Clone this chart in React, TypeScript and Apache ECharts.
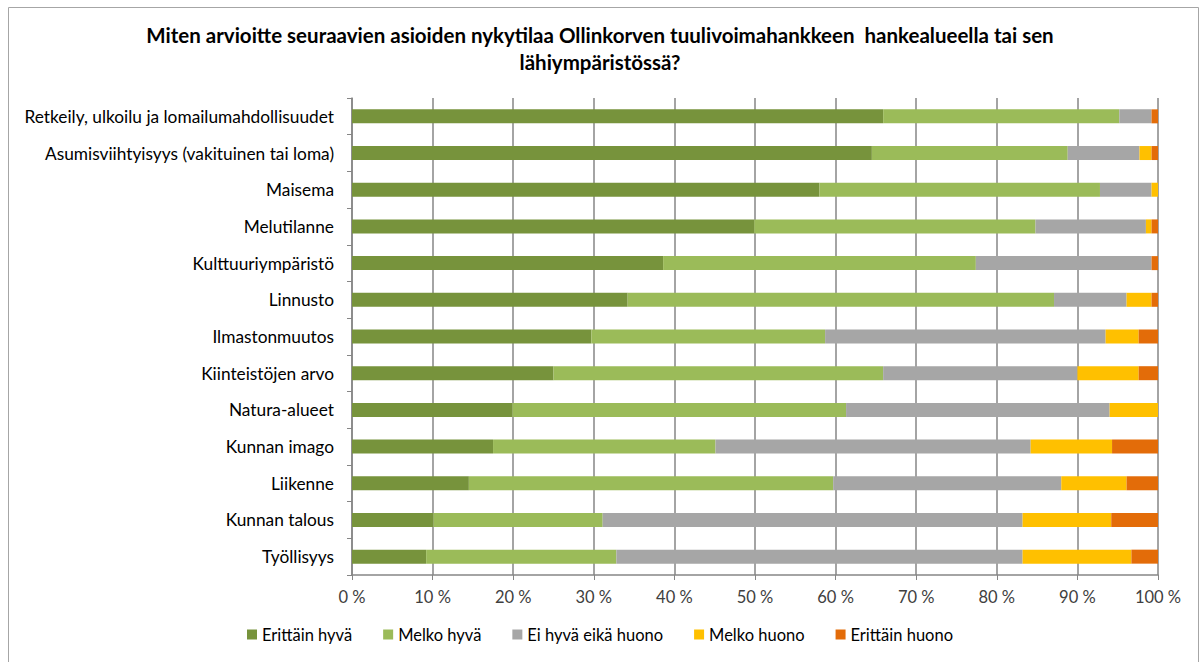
import React, { useEffect, useRef } from "react";
import * as echarts from "echarts";

const categories = [
  "Retkeily, ulkoilu ja lomailumahdollisuudet",
  "Asumisviihtyisyys (vakituinen tai loma)",
  "Maisema",
  "Melutilanne",
  "Kulttuuriympäristö",
  "Linnusto",
  "Ilmastonmuutos",
  "Kiinteistöjen arvo",
  "Natura-alueet",
  "Kunnan imago",
  "Liikenne",
  "Kunnan talous",
  "Työllisyys",
];

const seriesNames = ["Erittäin hyvä", "Melko hyvä", "Ei hyvä eikä huono", "Melko huono", "Erittäin huono"];

const erittainHyva = [65.9, 64.5, 58.0, 49.9, 38.6, 34.2, 29.7, 25.0, 19.9, 17.5, 14.5, 10.1, 9.2];
const melkoHyva = [29.3, 24.3, 34.8, 34.9, 38.8, 52.9, 29.0, 40.9, 41.4, 27.6, 45.2, 21.0, 23.6];
const eiHyvaEikaHuono = [4.0, 8.9, 6.4, 13.7, 21.8, 9.0, 34.8, 24.1, 32.7, 39.1, 28.3, 52.1, 50.4];
const melkoHuono = [0, 1.5, 0.8, 0.7, 0, 3.1, 4.1, 7.6, 6.0, 10.1, 8.1, 11.0, 13.5];
const erittainHuono = [0.8, 0.8, 0, 0.8, 0.8, 0.8, 2.4, 2.4, 0, 5.7, 3.9, 5.8, 3.3];

const colors = ["#77933C", "#9BBB59", "#A6A6A6", "#FFC000", "#E36C09"];

const titleText =
  "Miten arvioitte seuraavien asioiden nykytilaa Ollinkorven tuulivoimahankkeen  hankealueella tai sen\nlähiympäristössä?";

export default function App() {
  const ref = useRef<HTMLDivElement>(null);
  useEffect(() => {
    if (!ref.current) return;
    const chart = echarts.init(ref.current, undefined, { renderer: "svg" });
    const values = [erittainHyva, melkoHyva, eiHyvaEikaHuono, melkoHuono, erittainHuono];
    chart.setOption({
      animation: false,
      textStyle: { fontFamily: "Lato" },
      title: {
        text: titleText,
        left: "center",
        top: 16,
        textStyle: { fontFamily: "Lato", fontWeight: "bold", fontSize: 20.5, color: "#000", lineHeight: 27 },
      },
      graphic: [
        {
          type: "rect",
          shape: { x: 8.5, y: 7.5, width: 1190, height: 660 },
          style: { fill: "none", stroke: "#A6A6A6", lineWidth: 1 },
          silent: true,
        },
      ],
      legend: {
        bottom: 14,
        left: "center",
        itemWidth: 10,
        itemHeight: 10,
        itemGap: 31,
        icon: "rect",
        textStyle: { fontFamily: "Lato", fontSize: 16.5, color: "#000" },
        data: seriesNames,
      },
      grid: { left: 352, right: 42, top: 98, bottom: 87, containLabel: false },
      xAxis: {
        type: "value",
        min: 0,
        max: 100,
        interval: 10,
        axisLine: { show: true, lineStyle: { color: "#868686", width: 1.5 } },
        axisTick: { show: true, length: 5, lineStyle: { color: "#868686" } },
        axisLabel: {
          formatter: (v: number) => `${v} %`,
          fontFamily: "Lato",
          fontSize: 16.5,
          color: "#404040",
          margin: 13,
        },
        splitLine: { show: true, lineStyle: { color: "#868686", width: 1.5 } },
      },
      yAxis: {
        type: "category",
        data: categories,
        inverse: true,
        axisLine: { show: true, lineStyle: { color: "#868686", width: 1.5 } },
        axisTick: { show: true, length: 5, lineStyle: { color: "#868686" } },
        axisLabel: { fontFamily: "Lato", fontSize: 17.3, color: "#000", margin: 18 },
      },
      series: seriesNames.map((name, i) => ({
        name,
        type: "bar",
        stack: "total",
        barWidth: 14,
        itemStyle: { color: colors[i] },
        data: values[i],
      })),
    });
    return () => chart.dispose();
  }, []);
  return <div ref={ref} style={{ width: 1200, height: 662, position: "absolute", left: 0, top: 0 }} />;
}
